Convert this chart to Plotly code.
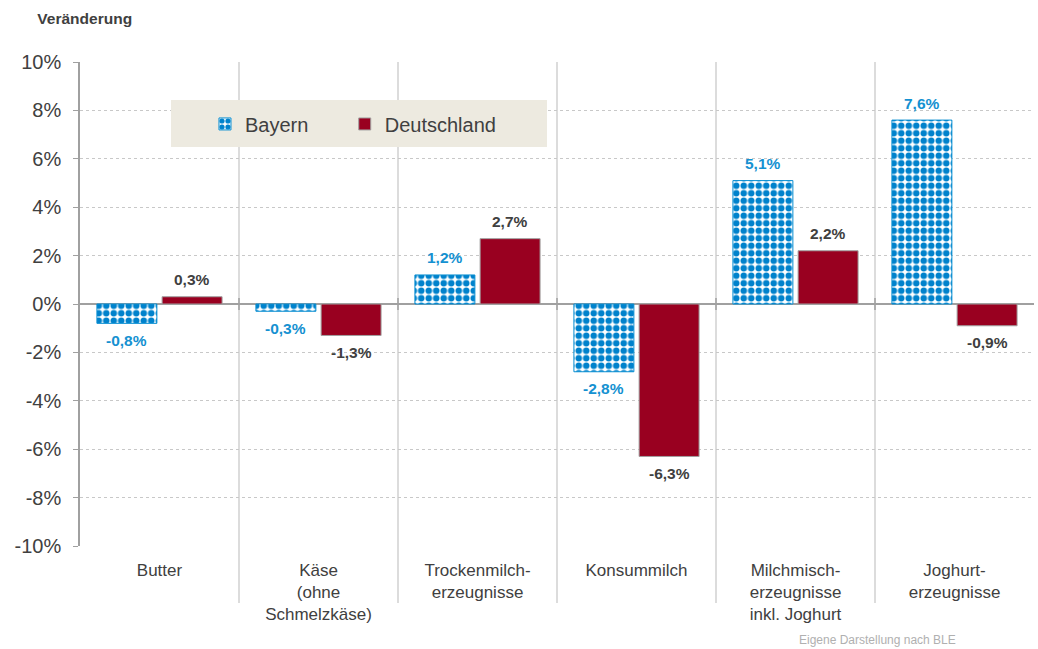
import plotly.graph_objects as go

# Veränderung Bayern vs. Deutschland je Produktgruppe (in %)
categories = [
    "Butter",
    "Käse<br>(ohne<br>Schmelzkäse)",
    "Trockenmilch-<br>erzeugnisse",
    "Konsummilch",
    "Milchmisch-<br>erzeugnisse<br>inkl. Joghurt",
    "Joghurt-<br>erzeugnisse",
]
bayern = [-0.8, -0.3, 1.2, -2.8, 5.1, 7.6]
deutschland = [0.3, -1.3, 2.7, -6.3, 2.2, -0.9]
y_ticks = [-10, -8, -6, -4, -2, 0, 2, 4, 6, 8, 10]
y_ticktext = [f"{v}%" for v in y_ticks]

FONT = "Liberation Sans, Arial, sans-serif"
BLUE = "#0a8fd2"
RED = "#990020"
TXT = "#404040"
BARGAP = 0.18

fig = go.Figure()

fig.add_trace(go.Bar(
    x=categories, y=bayern, name="Bayern", legend="legend",
    marker=dict(
        color="white",
        line=dict(color=BLUE, width=1),
        pattern=dict(shape=".", fgcolor="#0082cc", bgcolor="white",
                     size=7.5, solidity=0.6, fgopacity=1),
    ),
))
fig.add_trace(go.Bar(
    x=categories, y=deutschland, name="Deutschland", legend="legend2",
    marker=dict(color=RED, line=dict(color="#a0a0a0", width=1)),
))

# value labels, a bit further away from the bar ends than plotly's own text
annots = []
for series, side, color in [(bayern, -1, "#1591d1"), (deutschland, 1, TXT)]:
    for i, v in enumerate(series):
        annots.append(dict(
            x=i + side * (1 - BARGAP) / 4, y=v, xref="x", yref="y",
            text=f"{v:.1f}%".replace(".", ","), showarrow=False,
            yanchor="middle", yshift=17 if v >= 0 else -17,
            font=dict(family=FONT, size=15.5, color=color, weight="bold"),
        ))
annots.append(dict(
    text="Eigene Darstellung nach BLE", xref="paper", yref="paper",
    x=0.836, y=-0.2128, xanchor="center", yanchor="bottom", showarrow=False,
    font=dict(size=12, color="#b0b0b0"),
))

# vertical separators between the categories (reach down into the label area)
n = len(categories)
for i in range(1, n):
    fig.add_shape(type="line", xref="paper", yref="paper",
                  x0=i / n, x1=i / n, y0=-0.118, y1=1,
                  line=dict(color="#d0d0d0", width=1.5), layer="below")
    # small tick on the zero line
    fig.add_shape(type="line", xref="paper", yref="y",
                  x0=i / n, x1=i / n, y0=-0.25, y1=0.25,
                  line=dict(color="#a0a0a0", width=1.5))

# legend background box
fig.add_shape(type="rect", xref="paper", yref="paper",
              x0=0.0954, x1=0.4895, y0=0.8244, y1=0.9215,
              fillcolor="#edeae0", line=dict(width=0), layer="above")

leg = dict(orientation="h", xanchor="left", yanchor="middle", y=0.872,
           bgcolor="rgba(0,0,0,0)", font=dict(size=20, color=TXT))

fig.update_layout(
    width=1038, height=649,
    paper_bgcolor="white", plot_bgcolor="white",
    margin=dict(l=80, r=4, t=62, b=103),
    font=dict(family=FONT, color=TXT),
    barmode="group", bargap=BARGAP, bargroupgap=0.08,
    showlegend=True,
    legend=dict(leg, x=0.131),
    legend2=dict(leg, x=0.2775),
    title=dict(text="<b>Veränderung</b>", x=0.036, xanchor="left",
               y=0.972, yanchor="middle", font=dict(size=15.5, color=TXT)),
    annotations=annots,
    hovermode=False,
)

fig.update_yaxes(
    range=[-10, 10], tickmode="array", tickvals=y_ticks, ticktext=y_ticktext,
    showgrid=True, gridcolor="#c8c8c8", griddash="dot", gridwidth=1,
    zeroline=True, zerolinecolor="#a0a0a0", zerolinewidth=1.5,
    showline=True, linecolor="#a0a0a0", linewidth=1.5,
    ticks="outside", ticklen=5, tickcolor="#a0a0a0", ticklabelstandoff=8,
    tickfont=dict(size=20, color=TXT), automargin=False,
)
fig.update_xaxes(
    showline=False, showgrid=False, ticks="", ticklabelstandoff=12,
    tickfont=dict(size=17, color=TXT), tickangle=0, automargin=False,
)

# drop the default page margin so the figure sits at the window's corner
fig.write_html("out.html", config={"displayModeBar": False},
               post_script="document.body.style.margin='0';")
